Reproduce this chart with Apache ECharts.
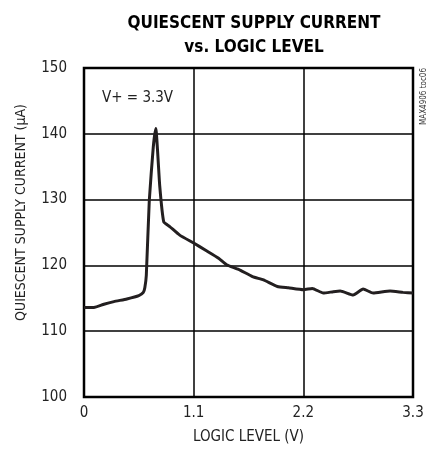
<!DOCTYPE html>
<html>
<head>
<meta charset="utf-8">
<script src="https://cdn.jsdelivr.net/npm/echarts@6/dist/echarts.min.js"></script>
<style>
html,body{margin:0;padding:0;background:#fff;}
#c{width:433px;height:459px;}
</style>
</head>
<body>
<div id="c"></div>
<script>
const logicLevel = [0, 0.1, 0.2, 0.3, 0.43, 0.55, 0.595, 0.61, 0.625, 0.655, 0.695, 0.72, 0.76, 0.80, 0.86, 0.96, 1.1, 1.22, 1.35, 1.43, 1.55, 1.69, 1.8, 1.94, 2.05, 2.2, 2.29, 2.40, 2.5, 2.57, 2.70, 2.80, 2.90, 3.07, 3.2, 3.3];
const supplyCurrent = [113.6, 113.6, 114.1, 114.5, 114.9, 115.4, 115.9, 116.6, 118.5, 129.9, 138, 140.8, 132, 126.6, 125.9, 124.6, 123.4, 122.3, 121.1, 120.1, 119.4, 118.3, 117.8, 116.8, 116.6, 116.3, 116.5, 115.8, 116.0, 116.1, 115.5, 116.4, 115.8, 116.1, 115.9, 115.8];
const xTicks = [0, 1.1, 2.2, 3.3];
const yTicks = [100, 110, 120, 130, 140, 150];

const font = "'Liberation Sans Narrow','DejaVu Sans Condensed',sans-serif";
const chart = echarts.init(document.getElementById('c'), null, {renderer: 'canvas'});
chart.setOption({
  animation: false,
  backgroundColor: '#fff',
  title: {
    text: 'QUIESCENT SUPPLY CURRENT\nvs. LOGIC LEVEL',
    left: 249, top: 7, textAlign: 'center',
    textStyle: {fontFamily: font, fontWeight: 'bold', fontSize: 17, color: '#000', lineHeight: 24}
  },
  grid: {left: 84, right: 20, top: 68, bottom: 62, show: true, borderColor: '#000', borderWidth: 2.5, backgroundColor: 'transparent'},
  xAxis: {
    type: 'value', min: 0, max: 3.3, interval: 1.1,
    name: 'LOGIC LEVEL (V)', nameLocation: 'middle', nameGap: 33,
    nameTextStyle: {fontFamily: font, fontSize: 15, color: '#222'},
    axisLine: {show: false}, axisTick: {show: false},
    axisLabel: {fontFamily: font, fontSize: 15, color: '#222', margin: 9,
      formatter: v => { const t = xTicks.find(x => Math.abs(x - v) < 1e-6); return t === undefined ? '' : (t === 0 ? '0' : t.toFixed(1)); }},
    splitLine: {show: true, lineStyle: {color: '#000', width: 1.5}}
  },
  yAxis: {
    type: 'value', min: 100, max: 150, interval: 10,
    name: 'QUIESCENT SUPPLY CURRENT (μA)', nameLocation: 'middle', nameGap: 56,
    nameTextStyle: {fontFamily: font, fontSize: 14, color: '#222', padding: [0, 0, 0, 40]},
    axisLine: {show: false}, axisTick: {show: false},
    axisLabel: {fontFamily: font, fontSize: 15, color: '#222', margin: 17,
      formatter: v => yTicks.includes(Math.round(v)) ? String(Math.round(v)) : ''},
    splitLine: {show: true, lineStyle: {color: '#000', width: 1.5}}
  },
  graphic: [
    {type: 'text', left: 102, top: 91, style: {text: 'V+ = 3.3V', fontFamily: font, fontSize: 15, fill: '#222'}},
    {type: 'text', x: 424, y: 68, rotation: Math.PI/2, style: {text: 'MAX4906 toc06', fontFamily: font, fontSize: 8, fill: '#333', align: 'right', verticalAlign: 'middle'}}
  ],
  series: [{
    type: 'line', data: logicLevel.map((x, i) => [x, supplyCurrent[i]]),
    showSymbol: false, smooth: 0.15,
    lineStyle: {color: '#231f20', width: 3}
  }]
});
</script>
</body>
</html>
